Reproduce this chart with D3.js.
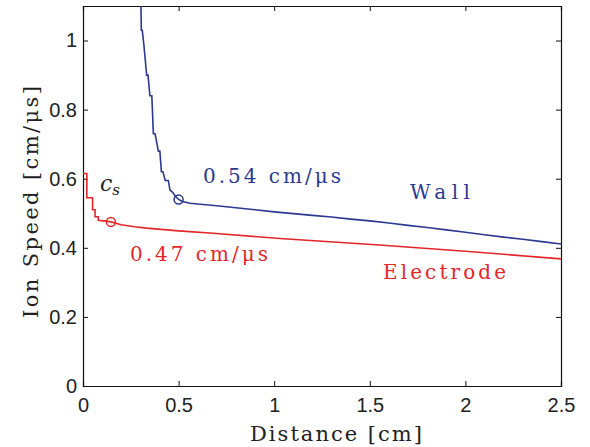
<!DOCTYPE html>
<html>
<head>
<meta charset="utf-8">
<script src="https://cdn.jsdelivr.net/npm/d3@7"></script>
<style>
  body { margin: 0; background: #fff; }
</style>
</head>
<body>
<svg id="chart" width="590" height="447"></svg>
<script>
// wall (blue) trace
var wallX = [0.303, 0.305, 0.31, 0.318, 0.333, 0.34, 0.35, 0.36, 0.368, 0.377, 0.394, 0.402, 0.41, 0.418, 0.43, 0.446, 0.455, 0.47, 0.485, 0.5,
  0.52, 0.56, 0.6, 0.7, 0.8, 0.9, 1.0, 1.1, 1.2, 1.3, 1.4, 1.5, 1.6, 1.7, 1.8, 1.9, 2.0, 2.1, 2.2, 2.3, 2.4, 2.5]
var wallY = [1.1, 1.03, 1.03, 0.99, 0.90, 0.90, 0.84, 0.84, 0.73, 0.73, 0.68, 0.68, 0.62, 0.62, 0.595, 0.595, 0.567, 0.56, 0.548, 0.54,
  0.534, 0.529, 0.527, 0.522, 0.516, 0.51, 0.504, 0.499, 0.494, 0.489, 0.483, 0.478, 0.472, 0.465, 0.459, 0.452, 0.445, 0.438, 0.431, 0.425, 0.418, 0.411]

// electrode (red) trace
var electrodeX = [0, 0.02, 0.02, 0.05, 0.05, 0.063, 0.063, 0.08, 0.08, 0.11, 0.146, 0.2, 0.27, 0.333, 0.5, 0.68, 1.03, 1.55, 2.0, 2.5]
var electrodeY = [0.615, 0.615, 0.545, 0.545, 0.51, 0.51, 0.49, 0.49, 0.48, 0.478, 0.475, 0.467, 0.461, 0.457, 0.449, 0.442, 0.427, 0.408, 0.39, 0.368]

// marked points
var markX = [0.5, 0.146]
var markY = [0.54, 0.475]

var xTicks = [0, 0.5, 1, 1.5, 2, 2.5]
var yTicks = [0, 0.2, 0.4, 0.6, 0.8, 1]

var blue = '#2b3990'
var red = '#e3262a'
var serif = '"DejaVu Serif", serif'
var sans = '"Liberation Sans", Arial, sans-serif'

var svg = d3.select('#chart')
var margin = { left: 83, right: 29, top: 6, bottom: 61 }
var width = 590 - margin.left - margin.right
var height = 447 - margin.top - margin.bottom
var g = svg.append('g').attr('transform', 'translate(' + margin.left + ',' + margin.top + ')')

var x = d3.scaleLinear().domain([0, 2.5]).range([0, width])
var y = d3.scaleLinear().domain([0, 1.1]).range([height, 0])

function fmt (d) { return d3.format('')(d) }

// axes with inward ticks on all four sides
g.append('g').attr('transform', 'translate(0,' + height + ')')
  .call(d3.axisBottom(x).tickValues(xTicks).tickSize(-5).tickPadding(12).tickFormat(fmt))
g.append('g')
  .call(d3.axisTop(x).tickValues(xTicks).tickSize(-5).tickFormat(''))
g.append('g')
  .call(d3.axisLeft(y).tickValues(yTicks).tickSize(-5).tickPadding(6).tickFormat(fmt))
g.append('g').attr('transform', 'translate(' + width + ',0)')
  .call(d3.axisRight(y).tickValues(yTicks).tickSize(-5).tickFormat(''))

g.selectAll('.domain').attr('stroke', '#111').attr('stroke-width', 1.2)
g.selectAll('.tick line').attr('stroke', '#111')
g.selectAll('.tick text')
  .attr('font-family', sans).attr('font-size', 20).attr('fill', '#222')

var line = d3.line().x((d) => x(d[0])).y((d) => y(d[1]))

g.append('path')
  .datum(wallX.map((v, i) => [v, wallY[i]]))
  .attr('fill', 'none').attr('stroke', blue).attr('stroke-width', 1.6)
  .attr('d', line)

g.append('path')
  .datum(electrodeX.map((v, i) => [v, electrodeY[i]]))
  .attr('fill', 'none').attr('stroke', red).attr('stroke-width', 1.6)
  .attr('d', line)

g.selectAll('.mark')
  .data(markX)
  .enter()
  .append('circle')
  .attr('cx', (d) => x(d))
  .attr('cy', (d, i) => y(markY[i]))
  .attr('r', 4.5)
  .attr('fill', 'none')
  .attr('stroke', (d, i) => i === 0 ? blue : red)
  .attr('stroke-width', 1.5)

// annotations
function label (txt, px, py, color, len, size) {
  return svg.append('text')
    .attr('x', px).attr('y', py)
    .attr('fill', color)
    .attr('font-family', serif)
    .attr('font-size', size)
    .attr('textLength', len).attr('lengthAdjust', 'spacing')
    .text(txt)
}
label('0.54 cm/\u03BCs', 203, 183, blue, 138, 20)
label('Wall', 410, 199, blue, 60, 20)
label('0.47 cm/\u03BCs', 130, 261, red, 138, 20)
label('Electrode', 383, 279, red, 123, 20)

var cs = svg.append('text')
  .attr('x', 100).attr('y', 191)
  .attr('fill', '#222').attr('font-family', serif).attr('font-size', 22).attr('font-style', 'italic')
cs.append('tspan').text('c')
cs.append('tspan').attr('dy', 4).attr('font-size', 15).text('s')

label('Distance [cm]', 250, 441, '#222', 172, 21)

svg.append('text')
  .attr('transform', 'translate(38,' + 318 + ') rotate(-90)')
  .attr('fill', '#222')
  .attr('font-family', serif)
  .attr('font-size', 21)
  .attr('textLength', 232).attr('lengthAdjust', 'spacing')
  .text('Ion Speed [cm/\u03BCs]')
</script>
</body>
</html>
